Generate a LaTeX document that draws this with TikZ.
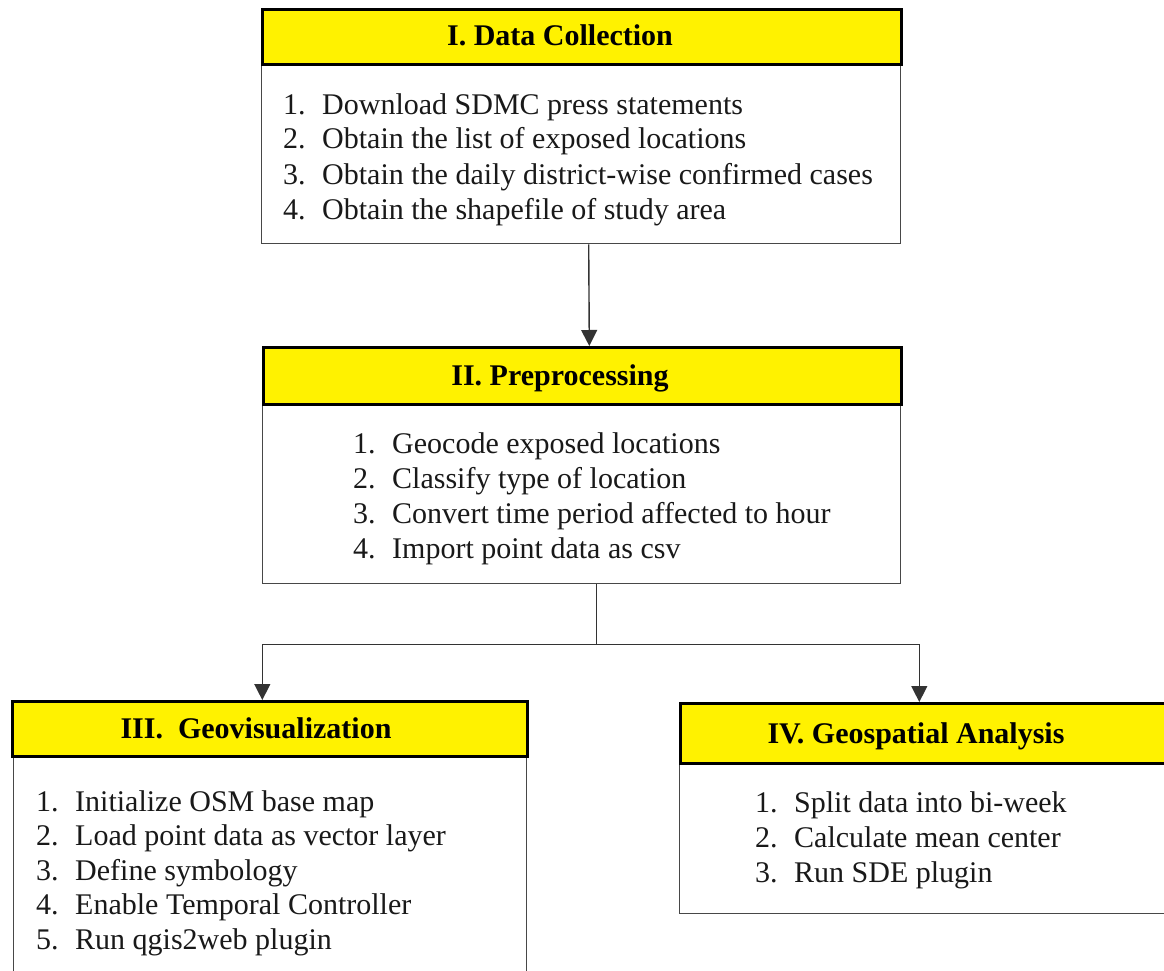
\documentclass[tikz,border=0pt]{standalone}
\usepackage{fontspec}
\setmainfont{Liberation Serif}
\usetikzlibrary{arrows.meta}
\newcommand{\num}[1]{\makebox[39pt][l]{#1}}
\begin{document}
\begin{tikzpicture}[x=1pt,y=-1pt,
  hdr/.style={draw=black, line width=2.6pt, fill=yellow, inner sep=0pt, anchor=north west},
  bodybox/.style={draw=black!72, line width=1.4pt, fill=white, inner sep=0pt, anchor=north west},
  ttl/.style={font=\fontsize{30}{35}\selectfont\bfseries, anchor=base, inner sep=0pt},
  itm/.style={font=\fontsize{30}{35}\selectfont, anchor=base west, inner sep=0pt, text=black!90},
  conn/.style={draw=black!80, line width=1.4pt},
  arr/.style={conn, -{Triangle[width=16pt,length=16pt]}}
]
\useasboundingbox (0,0) rectangle (1164,971);

% Box I
\node[bodybox, minimum width=639pt, minimum height=180pt] (b1) at (261,63) {};
\node[hdr, minimum width=639pt, minimum height=55pt] (h1) at (261,8) {};
\node[ttl] (t1) at (560,46) {I. Data Collection};
\node[itm] (i11) at (283,114) {\num{1.}Download SDMC press statements};
\node[itm] (i12) at (283,149) {\num{2.}Obtain the list of exposed locations};
\node[itm] (i13) at (283,184) {\num{3.}Obtain the daily district-wise confirmed cases};
\node[itm] (i14) at (283,219) {\num{4.}Obtain the shapefile of study area};

% Box II
\node[bodybox, minimum width=638pt, minimum height=180pt] (b2) at (262,403) {};
\node[hdr, minimum width=638pt, minimum height=57pt] (h2) at (262,346) {};
\node[ttl] (t2) at (560,385) {II. Preprocessing};
\node[itm] (i21) at (353,453) {\num{1.}Geocode exposed locations};
\node[itm] (i22) at (353,488) {\num{2.}Classify type of location};
\node[itm] (i23) at (353,523) {\num{3.}Convert time period affected to hour};
\node[itm] (i24) at (353,558) {\num{4.}Import point data as csv};

% Box III
\node[bodybox, minimum width=513pt, minimum height=230pt] (b3) at (13,757) {};
\node[hdr, minimum width=515pt, minimum height=55pt] (h3) at (11,700) {};
\node[ttl] (t3) at (256,738) {III.\ \ Geovisualization};
\node[itm] (i31) at (36,811) {\num{1.}Initialize OSM base map};
\node[itm] (i32) at (36,845.5) {\num{2.}Load point data as vector layer};
\node[itm] (i33) at (36,880) {\num{3.}Define symbology};
\node[itm] (i34) at (36,914.5) {\num{4.}Enable Temporal Controller};
\node[itm] (i35) at (36,949) {\num{5.}Run qgis2web plugin};

% Box IV
\node[bodybox, minimum width=496pt, minimum height=151pt] (b4) at (679,762) {};
\node[hdr, minimum width=496pt, minimum height=60pt] (h4) at (679,702) {};
\node[ttl] (t4) at (916,743) {IV. Geospatial Analysis};
\node[itm] (i41) at (755,812) {\num{1.}Split data into bi-week};
\node[itm] (i42) at (755,847) {\num{2.}Calculate mean center};
\node[itm] (i43) at (755,882) {\num{3.}Run SDE plugin};

% Connectors
\draw[arr] ([xshift=7.5pt]b1.south) -- ([xshift=7pt]h2.north);
\coordinate (j) at ([xshift=15pt,yshift=-60pt]b2.south);
\draw[conn] ([xshift=15pt]b2.south) -- (j);
\draw[arr] (j) -| ([xshift=-7.5pt]h3.north);
\draw[arr] (j) -| ([xshift=-9pt]h4.north);
\end{tikzpicture}
\end{document}
